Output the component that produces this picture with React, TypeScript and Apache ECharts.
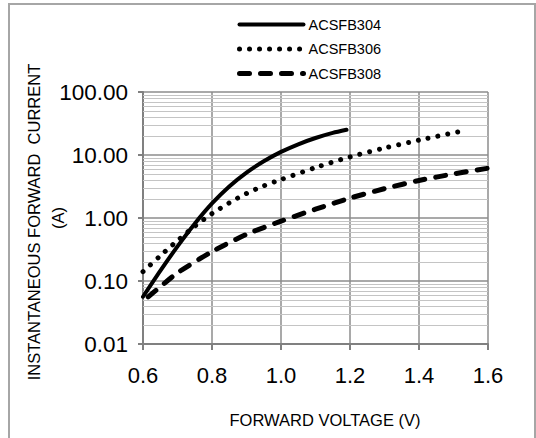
import React, { useEffect, useRef } from "react";
import * as echarts from "echarts";

const seriesNames = ["ACSFB304", "ACSFB306", "ACSFB308"];

const voltage304 = [0.6, 0.65, 0.7, 0.75, 0.8, 0.85, 0.9, 0.95, 1.0, 1.05, 1.1, 1.15, 1.19];
const current304 = [0.0562, 0.1445, 0.355, 0.813, 1.7, 3.16, 5.25, 7.94, 11.2, 14.8, 18.6, 22.4, 25.1];

const voltage306 = [0.6, 0.65, 0.7, 0.75, 0.8, 0.85, 0.9, 0.95, 1.0, 1.1, 1.2, 1.3, 1.4, 1.52];
const current306 = [0.141, 0.251, 0.437, 0.741, 1.175, 1.74, 2.45, 3.24, 4.07, 6.31, 9.33, 12.9, 17.2, 23.7];

const voltage308 = [0.615, 0.65, 0.7, 0.8, 0.9, 1.0, 1.1, 1.2, 1.3, 1.4, 1.5, 1.6];
const current308 = [0.056, 0.081, 0.135, 0.292, 0.55, 0.89, 1.38, 2.07, 2.92, 3.94, 5.01, 6.17];

const xMin = 0.6;
const xMax = 1.6;
const xStep = 0.2;
const yMin = 0.01;
const yMax = 100;
const decadeStarts = [0.01, 0.1, 1, 10];
const minorMultipliers = [2, 3, 4, 5, 6, 7, 8, 9];

const FONT = "'Liberation Sans', Arial, sans-serif";

function pairs(xs: number[], ys: number[]) {
  return xs.map((x, i) => [x, ys[i]]);
}

export default function App() {
  const ref = useRef<HTMLDivElement>(null);

  useEffect(() => {
    if (!ref.current) return;
    const chart = echarts.init(ref.current, undefined, { renderer: "svg" });

    const minorValues: number[] = [];
    decadeStarts.forEach((d) =>
      minorMultipliers.forEach((m) => minorValues.push(parseFloat((d * m).toPrecision(3))))
    );

    const option: any = {
      animation: false,
      backgroundColor: "#ffffff",
      textStyle: { fontFamily: FONT },
      grid: { left: 143, right: 48, top: 92, bottom: 94, containLabel: false },
      legend: {
        orient: "vertical",
        left: 232,
        top: 12,
        itemWidth: 64,
        itemHeight: 14,
        itemGap: 9.5,
        data: seriesNames,
        textStyle: { fontSize: 14.5, color: "#000", fontFamily: FONT },
        itemStyle: { opacity: 0 },
        lineStyle: { width: "inherit" },
        selectedMode: false,
      },
      xAxis: {
        type: "value",
        min: xMin,
        max: xMax,
        interval: xStep,
        axisLine: { show: true, lineStyle: { color: "#808080", width: 2 } },
        axisTick: { show: true, length: 6, lineStyle: { color: "#808080", width: 2 } },
        axisLabel: {
          fontSize: 22,
          color: "#000",
          margin: 20,
          fontFamily: FONT,
          formatter: (v: number) => v.toFixed(1),
        },
        splitLine: { show: true, lineStyle: { color: "#8c8c8c", width: 1.5 } },
      },
      yAxis: {
        type: "log",
        logBase: 10,
        min: yMin,
        max: yMax,
        axisLine: { show: true, lineStyle: { color: "#808080", width: 2 } },
        axisTick: { show: true, length: 5, lineStyle: { color: "#808080", width: 2 } },
        axisLabel: {
          fontSize: 22.5,
          color: "#000",
          margin: 15,
          fontFamily: FONT,
          formatter: (v: number) => v.toFixed(2),
        },
        splitLine: { show: true, lineStyle: { color: "#8c8c8c", width: 1.5 } },
      },
      graphic: [
        {
          type: "rect",
          shape: { x: 9, y: 4, width: 526, height: 460 },
          style: { fill: "none", stroke: "#a6a6a6", lineWidth: 2 },
          silent: true,
          z: -10,
        },
        {
          type: "text",
          x: 33.5,
          y: 222,
          rotation: Math.PI / 2,
          style: {
            text: "INSTANTANEOUS FORWARD  CURRENT",
            fontSize: 16.5,
            fontFamily: FONT,
            fill: "#000",
            align: "center",
            verticalAlign: "middle",
          },
        },
        {
          type: "text",
          x: 58,
          y: 218,
          rotation: Math.PI / 2,
          style: {
            text: "(A)",
            fontSize: 16.5,
            fontFamily: FONT,
            fill: "#000",
            align: "center",
            verticalAlign: "middle",
          },
        },
        {
          type: "text",
          x: 325,
          y: 420,
          style: {
            text: "FORWARD VOLTAGE (V)",
            fontSize: 16.5,
            fontFamily: FONT,
            fill: "#000",
            align: "center",
            verticalAlign: "middle",
          },
        },
      ],
      series: [
        {
          name: "minor-grid",
          type: "line",
          data: [[xMin, 1]],
          showSymbol: false,
          symbol: "none",
          lineStyle: { opacity: 0 },
          silent: true,
          z: 0,
          markLine: {
            silent: true,
            symbol: ["none", "none"],
            label: { show: false },
            lineStyle: { color: "#c4c4c4", width: 1, type: "solid" },
            data: minorValues.map((v) => ({ yAxis: v })),
          },
        },
        {
          name: seriesNames[0],
          type: "line",
          data: pairs(voltage304, current304),
          smooth: 0.25,
          symbol: "none",
          z: 5,
          lineStyle: { color: "#000", width: 4, type: "solid", cap: "round" },
          itemStyle: { color: "#000" },
        },
        {
          name: seriesNames[1],
          type: "line",
          data: pairs(voltage306, current306),
          smooth: 0.25,
          symbol: "none",
          z: 5,
          lineStyle: { color: "#000", width: 5, type: [0.01, 10], cap: "round" },
          itemStyle: { color: "#000" },
        },
        {
          name: seriesNames[2],
          type: "line",
          data: pairs(voltage308, current308),
          smooth: 0.25,
          symbol: "none",
          z: 5,
          lineStyle: { color: "#000", width: 5, type: [10, 11], cap: "round" },
          itemStyle: { color: "#000" },
        },
      ],
    };

    chart.setOption(option);
    return () => chart.dispose();
  }, []);

  return (
    <div
      ref={ref}
      style={{ position: "fixed", left: 0, top: 0, width: 536, height: 438, background: "#fff" }}
    />
  );
}
